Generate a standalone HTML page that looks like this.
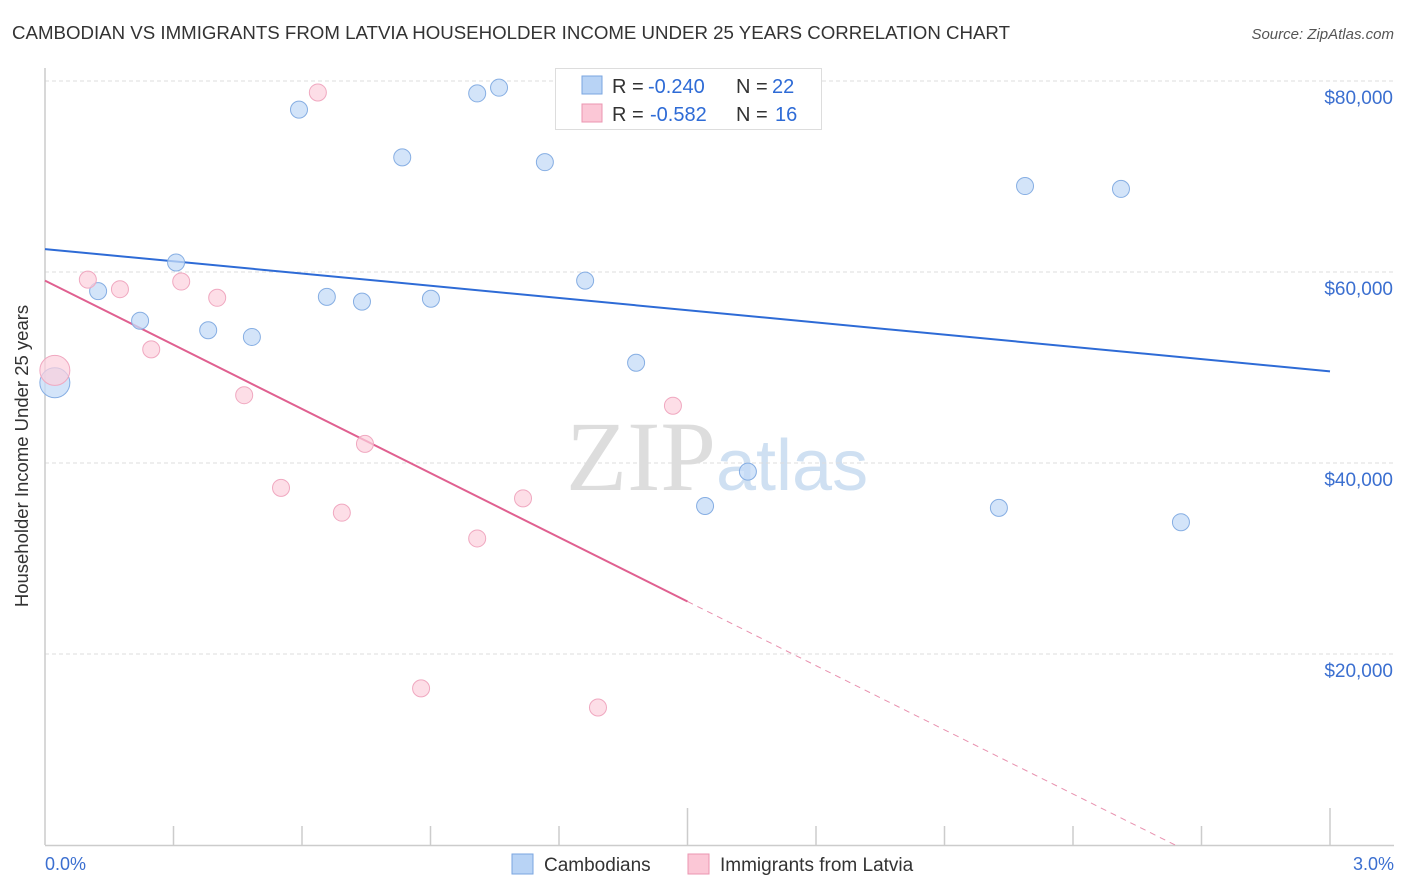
<!DOCTYPE html>
<html><head><meta charset="utf-8"><style>
body{margin:0;background:#fff;font-family:"Liberation Sans",sans-serif;}
svg{display:block}
</style></head><body>
<svg id="chart" width="1406" height="892" xmlns="http://www.w3.org/2000/svg">
<text x="12" y="39" font-size="18" fill="#333" textLength="998" lengthAdjust="spacingAndGlyphs">CAMBODIAN VS IMMIGRANTS FROM LATVIA HOUSEHOLDER INCOME UNDER 25 YEARS CORRELATION CHART</text>
<text x="1394" y="39" font-size="15" fill="#555" text-anchor="end" font-style="italic">Source: ZipAtlas.com</text>
<text x="716" y="490" font-size="100" fill="#ddd" text-anchor="end" font-family="Liberation Serif,serif">ZIP</text>
<text x="716" y="490" font-size="72" fill="#cfe0f2">atlas</text>
<g id="grid"></g><g id="axes"></g><g id="lines"></g><g id="pts"></g>
<text x="28" y="456" font-size="18.5" fill="#333" text-anchor="middle" transform="rotate(-90 28 456)">Householder Income Under 25 years</text>
<text x="45" y="870" font-size="18" fill="#3b6fd0">0.0%</text>
<text x="1394" y="870" font-size="18" fill="#3b6fd0" text-anchor="end">3.0%</text>
<g>
<rect x="555.5" y="68.5" width="266" height="61" fill="#fff" stroke="#ddd"/>
<rect x="582" y="76" width="20" height="18" fill="#b8d3f5" stroke="#7aa6e0"/>
<rect x="582" y="104" width="20" height="18" fill="#fbc7d6" stroke="#eb95b0"/>
<text x="612" y="93" font-size="20" fill="#333">R =</text>
<text x="648" y="93" font-size="20" fill="#2e6bd6">-0.240</text>
<text x="736" y="93" font-size="20" fill="#333">N =</text>
<text x="772" y="93" font-size="20" fill="#2e6bd6">22</text>
<text x="612" y="121" font-size="20" fill="#333">R =</text>
<text x="650" y="121" font-size="20" fill="#2e6bd6">-0.582</text>
<text x="736" y="121" font-size="20" fill="#333">N =</text>
<text x="775" y="121" font-size="20" fill="#2e6bd6">16</text>
</g>
<g>
<rect x="512" y="854" width="21" height="20" fill="#b8d3f5" stroke="#7aa6e0"/>
<text x="544" y="871" font-size="19" fill="#333">Cambodians</text>
<rect x="688" y="854" width="21" height="20" fill="#fbc7d6" stroke="#eb95b0"/>
<text x="720" y="871" font-size="19" fill="#333">Immigrants from Latvia</text>
</g>
</svg>
<script>
const yTicks=[20000,40000,60000,80000];
const yTickLabels=["$20,000","$40,000","$60,000","$80,000"];
const camX=[0.023,0.124,0.222,0.306,0.381,0.483,0.593,0.658,0.740,0.834,0.901,1.009,1.060,1.167,1.261,1.380,1.541,1.641,2.227,2.288,2.512,2.652];
const camY=[48400,58000,54900,61000,53900,53200,77000,57400,56900,72000,57200,78700,79300,71500,59100,50500,35500,39100,35300,69000,68700,33800];
const latX=[0.023,0.100,0.175,0.248,0.318,0.402,0.465,0.551,0.637,0.693,0.747,0.878,1.009,1.116,1.291,1.466];
const latY=[49700,59200,58200,51900,59000,57300,47100,37400,78800,34800,42000,16400,32100,36300,14400,46000];
const camTrend=[62400,49600];
const latTrend=[59100,25500];
const NS="http://www.w3.org/2000/svg";
const X0=45,X1=1330,Y0=845;
const sx=v=>X0+(v/3)*(X1-X0);
const sy=v=>Y0-v/20000*191;
function mk(t,a,p){const e=document.createElementNS(NS,t);for(const k in a)e.setAttribute(k,a[k]);p.appendChild(e);return e;}
const grid=document.getElementById('grid'),axes=document.getElementById('axes'),lines=document.getElementById('lines'),pts=document.getElementById('pts');
yTicks.forEach((v,i)=>{
 const l=mk('line',{x1:45,x2:1394,y1:sy(v),y2:sy(v),stroke:'#ddd','stroke-dasharray':'4,3'},grid);
 
 
 const t=mk('text',{x:1393,y:sy(v)+23,'font-size':19,fill:'#3b6fd0','text-anchor':'end'},grid);
 t.textContent=yTickLabels[i];
 
 
});
const ax=mk('line',{x1:45,x2:1394,y1:845.5,y2:845.5,stroke:'#ccc','stroke-width':1.5},axes);


const ay=mk('line',{x1:45,x2:45,y1:68,y2:845,stroke:'#ccc','stroke-width':1.5},axes);


for(let i=1;i<=10;i++){const x=sx(i*0.3);
 const t=mk('line',{x1:x,x2:x,y1:(i==5||i==10)?808:826,y2:845,stroke:'#ccc','stroke-width':1.5},axes);
 
 }
const cl=mk('line',{x1:sx(0),y1:sy(camTrend[0]),x2:sx(3),y2:sy(camTrend[1]),stroke:'#2e6bd6','stroke-width':2},lines);


const slope=(latTrend[1]-latTrend[0])/1.5;const xz=-latTrend[0]/slope;
const ll=mk('line',{x1:sx(0),y1:sy(latTrend[0]),x2:sx(1.5),y2:sy(latTrend[1]),stroke:'#e06090','stroke-width':2},lines);


const ld=mk('line',{x1:sx(1.5),y1:sy(latTrend[1]),x2:sx(xz),y2:sy(0),stroke:'#e890ae','stroke-width':1,'stroke-dasharray':'6,5'},lines);


camX.forEach((x,i)=>{const c=mk('circle',{cx:sx(x),cy:sy(camY[i]),r:i==0?15:8.5,fill:'#c4dbf7','fill-opacity':0.75,stroke:'#86aee3'},pts);
 
 });
latX.forEach((x,i)=>{const c=mk('circle',{cx:sx(x),cy:sy(latY[i]),r:i==0?15:8.5,fill:'#fcd0dd','fill-opacity':0.7,stroke:'#f0a8c0'},pts);
 
 });
</script>
</body></html>
